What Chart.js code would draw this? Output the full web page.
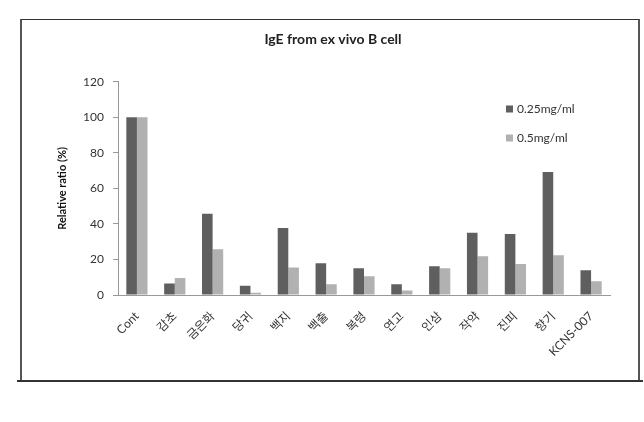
<!DOCTYPE html>
<html>
<head>
<meta charset="utf-8">
<script src="https://cdn.jsdelivr.net/npm/chart.js@4.4.1/dist/chart.umd.min.js"></script>
<style>
  html, body { margin: 0; padding: 0; background: #fff; }
  #wrap { position: relative; width: 644px; height: 422px; }
  #box { position: absolute; left: 20px; top: 19px; width: 616px; height: 361px;
         border-top: 1px solid #333; border-left: 2px solid #555; border-right: 2px solid #555; }
  #base { position: absolute; left: 17px; top: 380px; width: 626px; height: 2px; background: #333; }
  canvas { position: absolute; left: 0; top: 0; }
</style>
</head>
<body>
<div id="wrap">
  <canvas id="chart" width="644" height="422"></canvas>
  <div id="box"></div>
  <div id="base"></div>
</div>
<script>
// Data
const categories = ['Cont', '감초', '금은화', '당귀', '백지', '백출', '복령', '연고', '인삼', '작약', '진피', '향기', 'KCNS-007'];
const dose025 = [100, 6.5, 45.8, 5.2, 37.7, 17.9, 15.1, 6, 16.2, 35.1, 34.3, 69.3, 14];
const dose05 = [100, 9.6, 25.8, 1.3, 15.5, 6, 10.5, 2.6, 15.1, 21.8, 17.4, 22.4, 7.7];
const seriesNames = ['0.25mg/ml', '0.5mg/ml'];
const yTicks = [0, 20, 40, 60, 80, 100, 120];

const FONT = "Lato, 'Noto Sans CJK KR', sans-serif";

// Legend drawn in the top-right of the plot, like the Excel original
const sideLegend = {
    id: 'sideLegend',
    afterDraw(chart) {
        const c = chart.ctx;
        c.save();
        c.font = '12px ' + FONT;
        c.textBaseline = 'middle';
        chart.data.datasets.forEach((ds, i) => {
            const y = 109 + i * 29;
            c.fillStyle = ds.backgroundColor;
            c.fillRect(506, y - 3.5, 7, 7);
            c.fillStyle = '#333';
            c.fillText(ds.label, 517, y);
        });
        c.restore();
    }
};

const ctx = document.getElementById('chart').getContext('2d');
new Chart(ctx, {
    type: 'bar',
    data: {
        labels: categories,
        datasets: [
            { label: seriesNames[0], data: dose025, backgroundColor: '#5f5f5f' },
            { label: seriesNames[1], data: dose05, backgroundColor: '#b1b1b1' }
        ]
    },
    options: {
        responsive: false,
        animation: false,
        categoryPercentage: 0.56,
        barPercentage: 1.0,
        layout: { padding: { left: 56, right: 34, top: 0, bottom: 0 } },
        plugins: {
            legend: { display: false },
            tooltip: { enabled: false },
            title: {
                display: true,
                text: 'IgE from ex vivo B cell',
                color: '#222',
                font: { family: FONT, size: 14, weight: 'bold' },
                padding: { top: 31, bottom: 34 }
            }
        },
        scales: {
            x: {
                grid: { display: false },
                border: { display: true, color: '#999' },
                ticks: {
                    color: '#333',
                    font: { family: FONT, size: 12 },
                    minRotation: 45,
                    maxRotation: 45,
                    autoSkip: false,
                    padding: 6
                },
                afterFit: s => { s.height = 127; }
            },
            y: {
                min: 0,
                max: 120,
                afterBuildTicks: s => { s.ticks = yTicks.map(v => ({ value: v })); },
                grid: { drawOnChartArea: false, tickLength: 5, color: '#999' },
                border: { display: true, color: '#999' },
                ticks: { color: '#333', font: { family: FONT, size: 12 }, padding: 9 },
                title: {
                    display: true,
                    text: 'Relative ratio (%)',
                    color: '#111',
                    font: { family: FONT, size: 11, weight: 'bold' },
                    padding: 0
                },
                afterFit: s => { s.width = 62; }
            }
        }
    },
    plugins: [sideLegend]
});
</script>
</body>
</html>
